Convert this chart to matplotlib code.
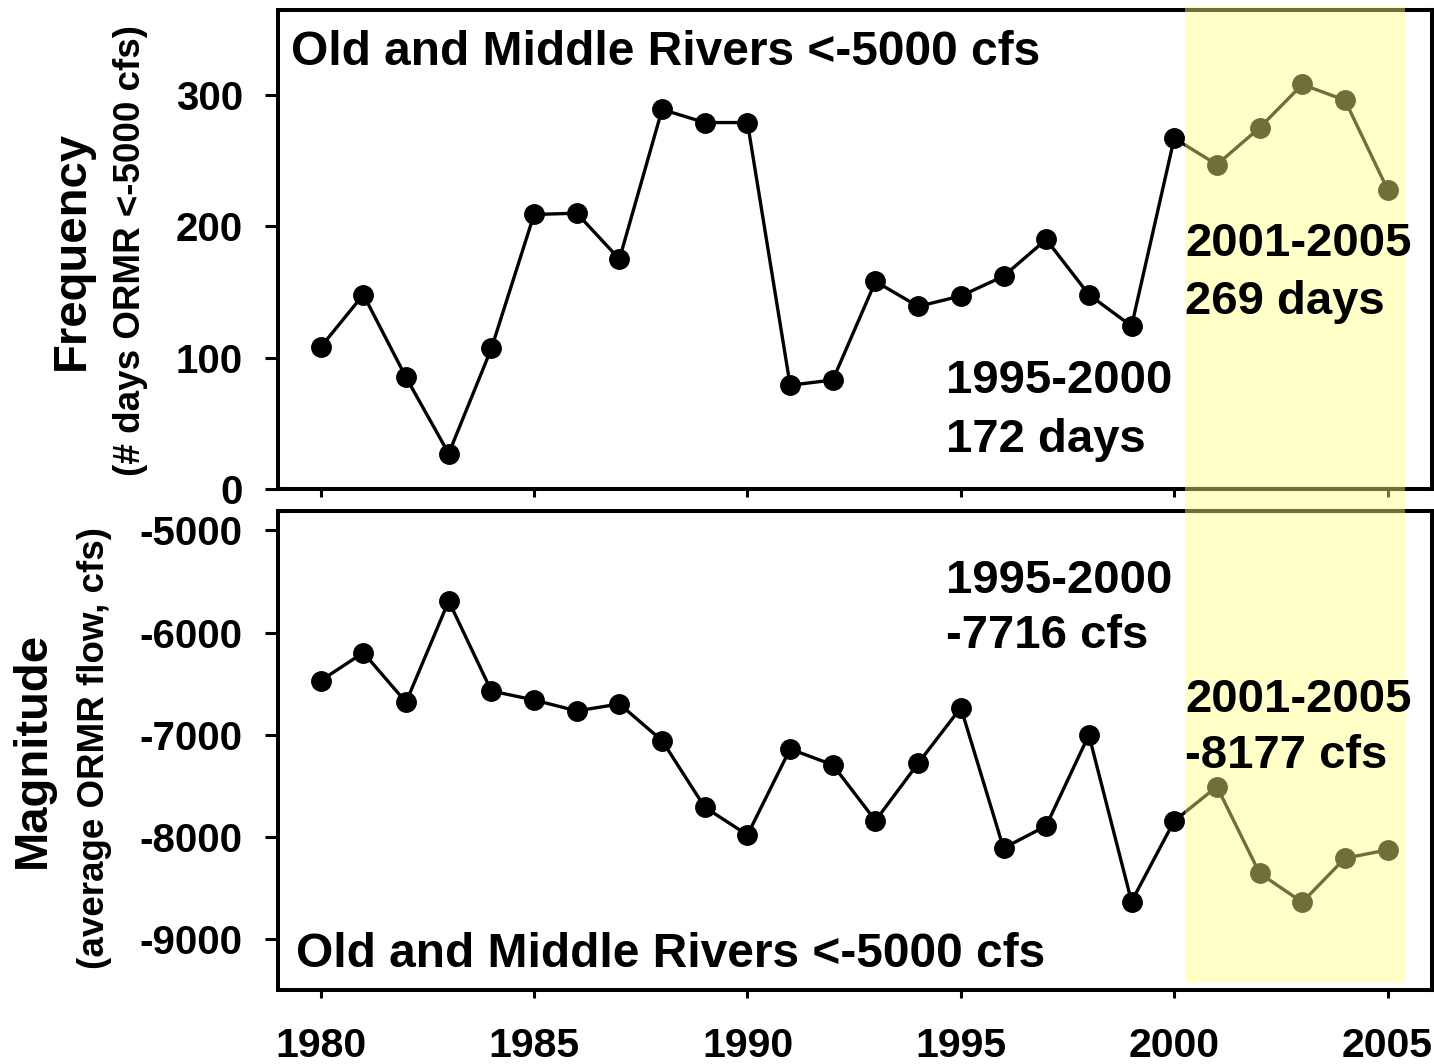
import matplotlib
matplotlib.use("Agg")
import matplotlib.pyplot as plt
from matplotlib.patches import Rectangle
from matplotlib.transforms import blended_transform_factory

# --- data ---
years = list(range(1980, 2006))
freq_days = [108, 148, 85, 27, 107, 209, 210, 175, 289, 279,
             279, 79, 83, 158, 139, 147, 162, 190, 148, 124,
             267, 247, 275, 308, 296, 228]
magnitude_cfs = [-6470, -6196, -6681, -5691, -6571, -6659, -6766, -6698, -7057, -7708,
                 -7979, -7138, -7294, -7839, -7278, -6734, -8108, -7890, -7001, -8630,
                 -7842, -7506, -8353, -8637, -8206, -8125]
x_ticks = [1980, 1985, 1990, 1995, 2000, 2005]
freq_ticks = [0, 100, 200, 300]
mag_ticks = [-9000, -8000, -7000, -6000, -5000]
panel_title = "Old and Middle Rivers <-5000 cfs"
freq_notes = [("1995-2000", "172 days"), ("2001-2005", "269 days")]
mag_notes = [("1995-2000", "-7716 cfs"), ("2001-2005", "-8177 cfs")]
highlight = (2000.25, 2005.4)

plt.rcParams["font.family"] = ["Liberation Sans", "DejaVu Sans"]
plt.rcParams["font.weight"] = "bold"
plt.rcParams["axes.unicode_minus"] = False

W, H = 1434, 1064
fig = plt.figure(figsize=(W / 100, H / 100), dpi=100)
left, width = 278 / W, 1154 / W
ax1 = fig.add_axes([left, 1 - 489 / H, width, 479.4 / H])
ax2 = fig.add_axes([left, 1 - 990 / H, width, 479 / H])


def style(ax):
    for s in ax.spines.values():
        s.set_linewidth(2.9)
    ax.tick_params(axis="y", direction="out", length=9.4, width=2.2,
                   pad=16, labelsize=29)
    ax.tick_params(axis="x", direction="out", length=5.5, width=2.2,
                   pad=21, labelsize=29.5)
    ax.set_xlim(1979, 2006.04)
    ax.set_xticks(x_ticks)


def notes(ax, items, xs, baselines):
    # figure-level text so the notes sit above the yellow band
    for (l1, l2), x0, (b1, b2) in zip(items, xs, baselines):
        for txt, b in ((l1, b1), (l2, b2)):
            fig.text(x0, b, txt, transform=ax.transData, fontsize=34,
                     ha="left", va="baseline", zorder=11)


# top: frequency
ax1.plot(years, freq_days, "-o", color="black", lw=2.4, ms=14, zorder=3)
style(ax1)
ax1.set_ylim(0, 365)
ax1.set_yticks(freq_ticks)
ax1.tick_params(axis="x", labelbottom=False)
ax1.text(0.0113, 0.884, panel_title, transform=ax1.transAxes,
         fontsize=34.5, ha="left", va="baseline")
notes(ax1, freq_notes, [1994.65, 2000.25], [(73.1, 28.2), (177.4, 133.2)])

# bottom: magnitude
ax2.plot(years, magnitude_cfs, "-o", color="black", lw=2.4, ms=14, zorder=3)
style(ax2)
ax2.set_ylim(-9495, -4811)
ax2.set_yticks(mag_ticks)
ax2.text(0.0156, 0.048, panel_title, transform=ax2.transAxes,
         fontsize=34.5, ha="left", va="baseline")
notes(ax2, mag_notes, [1994.65, 2000.25], [(-5613, -6150), (-6776, -7323)])

# y labels (two sizes each)
fig.text(72 / W, 1 - 250 / H, "Frequency", rotation=90, fontsize=34,
         ha="center", va="center")
fig.text(130 / W, 1 - 250 / H, "(# days ORMR <-5000 cfs)", rotation=90,
         fontsize=26.5, ha="center", va="center")
fig.text(33 / W, 1 - 750 / H, "Magnitude", rotation=90, fontsize=34,
         ha="center", va="center")
fig.text(95 / W, 1 - 748 / H, "(average ORMR flow, cfs)", rotation=90,
         fontsize=26.5, ha="center", va="center")

# translucent yellow band laid over both panels (2001-2005)
tr = blended_transform_factory(ax1.transData, fig.transFigure)
y_lo, y_hi = 1 - 983 / H, 1 - 7 / H
fig.add_artist(Rectangle((highlight[0], y_lo), highlight[1] - highlight[0],
                         y_hi - y_lo, transform=tr, facecolor=(1, 1, 0.5),
                         alpha=0.44, edgecolor="none", zorder=10))

fig.savefig("out.png", dpi=100, facecolor="white")
